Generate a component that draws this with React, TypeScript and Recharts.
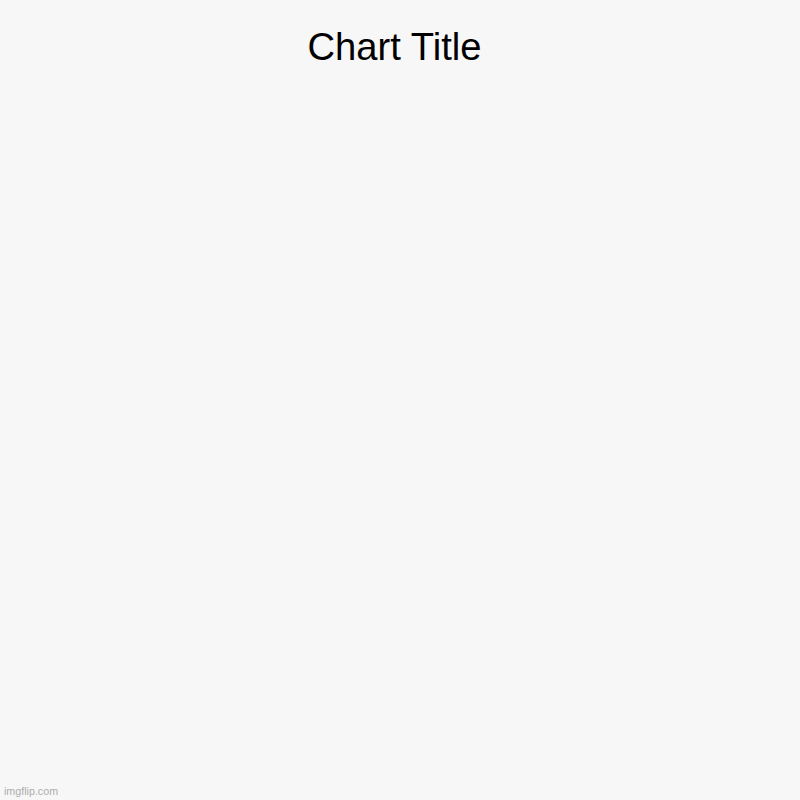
import React from "react";
import { Bar, BarChart, XAxis, YAxis } from "recharts";

// The chart has no series data yet: nothing is drawn but the title and watermark.
const categories: string[] = [];
const values: number[] = [];
const title = "Chart Title";
const watermark = "imgflip.com";

const data = categories.map((name, i) => ({ name, value: values[i] }));

export default function App() {
  return (
    <div
      style={{
        position: "absolute",
        top: 0,
        left: 0,
        width: 800,
        height: 800,
        background: "#f7f7f7",
        fontFamily: "'Liberation Sans', Arial, sans-serif"
      }}
    >
      <BarChart width={800} height={800} data={data} margin={{ top: 90, right: 20, bottom: 30, left: 20 }}>
        <XAxis dataKey="name" hide />
        <YAxis hide />
        <Bar dataKey="value" fill="#4e79a7" isAnimationActive={false} />
      </BarChart>
      <svg width={800} height={800} style={{ position: "absolute", top: 0, left: 0, pointerEvents: "none" }}>
        <text x={394.5} y={60} textAnchor="middle" fontSize={38.2} fill="#000" fontFamily="'Liberation Sans', Arial, sans-serif">
          {title}
        </text>
        <text x={4} y={795} fontSize={10.7} fill="#adadad" fontFamily="'Liberation Sans', Arial, sans-serif">
          {watermark}
        </text>
      </svg>
    </div>
  );
}
